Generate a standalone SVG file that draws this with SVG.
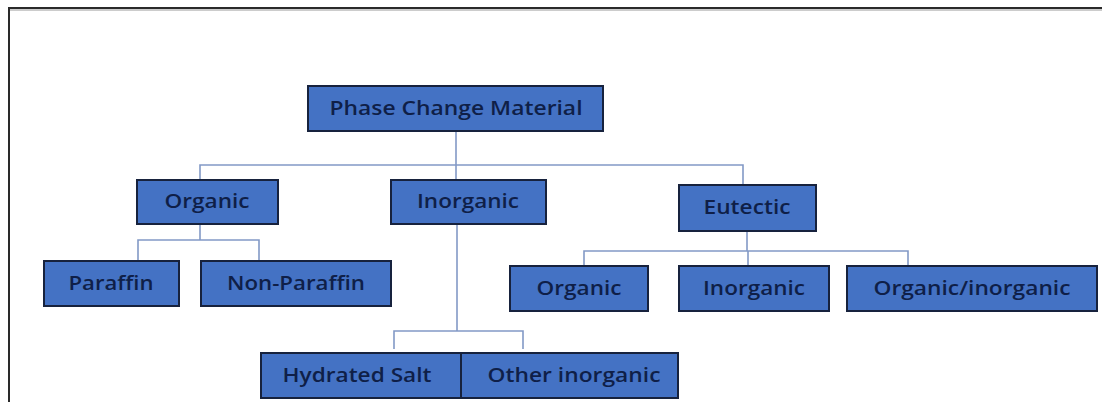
<svg xmlns="http://www.w3.org/2000/svg" width="1102" height="402" viewBox="0 0 1102 402">
<style>
.box{fill:#4472c4;stroke:#17223d;stroke-width:2}
.lbl{font-family:"Open Sans","Liberation Sans",sans-serif;font-size:19px;font-weight:600;fill:#0f1f48;text-anchor:middle}
.conn{fill:none;stroke:#8299c6;stroke-width:1.6}
</style>
<rect width="1102" height="402" fill="#ffffff"/>
<path d="M9,402 V8 H1102" fill="none" stroke="#2a2a2a" stroke-width="2"/>
<path d="M10,10 H1102" fill="none" stroke="#9a9a9a" stroke-width="1"/>
<g id="connectors" class="conn">
<path d="M456,131 V180"/>
<path d="M200,180 V165 H743 V185"/>
<path d="M200,224 V240"/>
<path d="M138,261 V240 H259 V261"/>
<path d="M457,224 V331"/>
<path d="M394,349 V331 H523 V349"/>
<path d="M747,231 V251"/>
<path d="M584,266 V251 H908 V266"/>
<path d="M748,251 V266"/>
</g>
<g id="pcm"><rect class="box" x="308" y="86" width="295" height="45"/><text class="lbl" x="456" y="115" textLength="253" lengthAdjust="spacingAndGlyphs">Phase Change Material</text></g>
<g id="organic"><rect class="box" x="137" y="180" width="141" height="44"/><text class="lbl" x="207" y="208" textLength="85" lengthAdjust="spacingAndGlyphs">Organic</text></g>
<g id="inorganic"><rect class="box" x="391" y="180" width="155" height="44"/><text class="lbl" x="468" y="208" textLength="102" lengthAdjust="spacingAndGlyphs">Inorganic</text></g>
<g id="eutectic"><rect class="box" x="679" y="185" width="137" height="46"/><text class="lbl" x="747" y="214" textLength="87" lengthAdjust="spacingAndGlyphs">Eutectic</text></g>
<g id="paraffin"><rect class="box" x="44" y="261" width="135" height="45"/><text class="lbl" x="111" y="290" textLength="85" lengthAdjust="spacingAndGlyphs">Paraffin</text></g>
<g id="non-paraffin"><rect class="box" x="201" y="261" width="190" height="45"/><text class="lbl" x="296" y="290" textLength="138" lengthAdjust="spacingAndGlyphs">Non-Paraffin</text></g>
<g id="eu-organic"><rect class="box" x="510" y="266" width="138" height="45"/><text class="lbl" x="579" y="295" textLength="85" lengthAdjust="spacingAndGlyphs">Organic</text></g>
<g id="eu-inorganic"><rect class="box" x="679" y="266" width="150" height="45"/><text class="lbl" x="754" y="295" textLength="102" lengthAdjust="spacingAndGlyphs">Inorganic</text></g>
<g id="eu-organic-inorganic"><rect class="box" x="847" y="266" width="250" height="45"/><text class="lbl" x="972" y="295" textLength="197" lengthAdjust="spacingAndGlyphs">Organic/inorganic</text></g>
<g id="hydrated-salt"><rect class="box" x="261" y="353" width="200" height="45"/><text class="lbl" x="357" y="382" textLength="149" lengthAdjust="spacingAndGlyphs">Hydrated Salt</text></g>
<g id="other-inorganic"><rect class="box" x="461" y="353" width="217" height="45"/><text class="lbl" x="574" y="382" textLength="173" lengthAdjust="spacingAndGlyphs">Other inorganic</text></g>
</svg>
